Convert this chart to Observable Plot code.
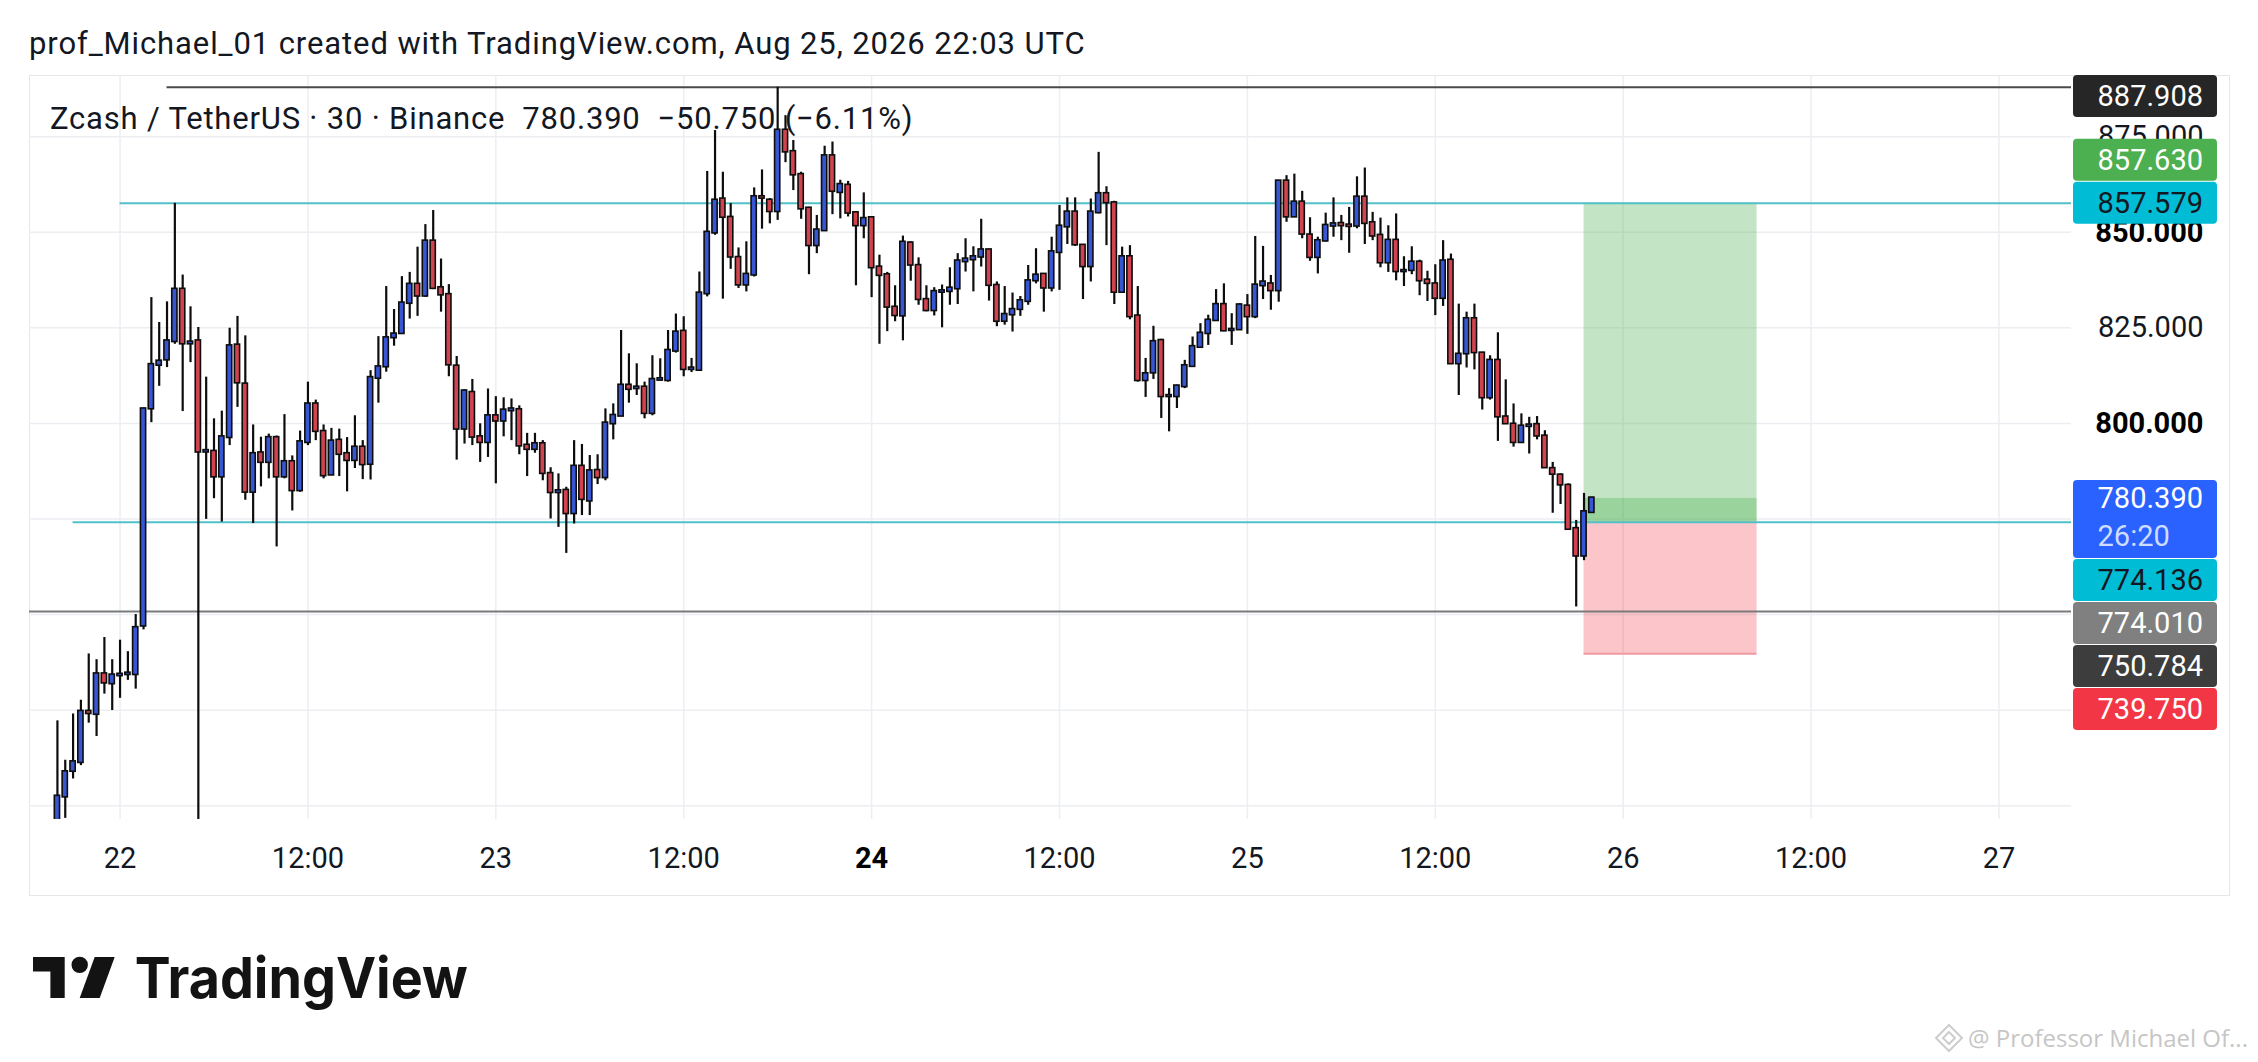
<!DOCTYPE html>
<html><head><meta charset="utf-8">
<script src="https://cdn.jsdelivr.net/npm/d3@7"></script>
<script src="https://cdn.jsdelivr.net/npm/@observablehq/plot@0.6"></script>
<style>
html,body{margin:0;padding:0;background:#fff;}
#wrap{position:relative;width:2258px;height:1062px;overflow:hidden;font-family:Roboto,"Noto Sans",sans-serif;color:#131722;}
#frame{position:absolute;left:29px;top:75px;width:2201px;height:821px;border:1.5px solid #e4e6ea;box-sizing:border-box;}
#chart{position:absolute;left:0;top:0;}
.t{position:absolute;white-space:pre;line-height:1;}
</style></head><body>
<div id="wrap">
  <div id="frame"></div>
  <div id="chart"></div>
  <div class="t" style="left:29px;top:28px;font-size:31px;letter-spacing:0.9px;">prof_Michael_01 created with TradingView.com, Aug 25, 2026 22:03 UTC</div>
  <div class="t" style="left:50px;top:103px;font-size:31px;letter-spacing:0.8px;">Zcash / TetherUS · 30 · Binance  780.390  −50.750 (−6.11%)</div>
  <svg style="position:absolute;left:33px;top:957px;overflow:visible" width="440" height="60">
    <path d="M0 0H31.7V41H17.4V14.4H0Z" fill="#131313"/>
    <circle cx="46.7" cy="7.9" r="8.2" fill="#131313"/>
    <path d="M61.7 0H81.7L66.7 41H46.7Z" fill="#131313"/>
    <text x="101.7" y="41" font-family="Inter, Roboto, sans-serif" font-weight="700" font-size="56" textLength="333" lengthAdjust="spacingAndGlyphs" fill="#131313">TradingView</text>
  </svg>
  <svg style="position:absolute;left:1935px;top:1024px;overflow:visible" width="30" height="30">
    <path d="M14 1L27 14L14 27L1 14Z" fill="none" stroke="#cdcdcd" stroke-width="2"/>
    <path d="M14 8L20 14L14 20L8 14Z" fill="none" stroke="#cdcdcd" stroke-width="2"/>
  </svg>
  <div class="t" style="left:1968px;top:1026px;font-size:24px;font-family:'Open Sans',sans-serif;color:#c6c6c6;">@ Professor Michael Of...</div>
</div>
<script>
// ---- data (30-minute candles, first bar Aug 21 2026 20:00 UTC) ----
const firstBar = Date.UTC(2026, 7, 21, 20, 0);
const open = [
694, 702.4, 709.1, 711.4, 724.6, 724.0, 734.4, 732.0,
734.1, 734.4, 734.4, 747.1, 803.9, 815.3, 816.7, 821.5, 835.0, 820.9,
821.5, 792.6, 792.6, 786.1, 796.4, 820.4, 810.2, 782.1, 792.2, 789.9,
796.2, 786.1, 789.9, 782.5, 795.1, 805.0, 797.8, 786.6, 795.5, 792.0,
790.4, 793.7, 789.4, 811.9, 814.9, 822.5, 823.6, 831.5, 836.3, 833.4,
847.6, 835.4, 833.6, 814.9, 798.6, 808.0, 796.4, 795.1, 801.9, 800.7,
803.4, 803.5, 794.2, 793.3, 794.6, 786.8, 782.0, 782.4, 776.5, 788.7,
779.8, 787.6, 785.9, 800.0, 802.0, 809.9, 809.2, 809.4, 802.7, 811.4,
811.3, 819.0, 824.0, 814.2, 814.0, 834.0, 849.9, 858.6, 853.8, 843.3,
836.3, 838.9, 859.2, 858.3, 855.5, 876.6, 871.0, 865.0, 856.2, 846.6,
850.5, 869.9, 860.5, 862.2, 855.0, 851.8, 853.7, 840.8, 838.8, 830.3,
828.2, 847.1, 841.2, 832.3, 829.6, 834.4, 834.6, 835.3, 842.4, 842.9,
843.6, 845.3, 836.0, 826.8, 828.5, 829.9, 832.0, 837.4, 838.9, 835.5,
844.8, 851.5, 855.2, 846.5, 841.1, 855.2, 860.0, 857.6, 834.4, 843.5,
828.0, 811.3, 813.3, 821.6, 807.1, 807.1, 809.7, 815.0, 820.0, 823.6,
827.0, 831.0, 824.4, 824.6, 830.6, 828.0, 836.1, 836.4, 834.8, 863.3,
854.1, 857.8, 849.2, 843.5, 847.8, 851.7, 852.2, 851.8, 851.7, 859.1,
852.4, 849.1, 842.1, 847.8, 839.8, 840.1, 842.1, 837.4, 836.4, 832.8,
842.6, 815.7, 818.3, 827.3, 818.3, 806.8, 816.4, 801.6, 799.7, 795.1,
799.3, 799.6, 796.6, 788.1, 786.4, 783.7, 772.4, 765.4, 776.8
];
const high = [
722.2, 711.9, 724.0, 727.6, 739.7, 738.2, 744.0, 738.2,
743.3, 740.3, 750.0, 804.0, 832.9, 826.4, 831.8, 857.58, 838.8, 830.5,
825.1, 812.1, 801.2, 803.2, 824.9, 828.0, 822.9, 799.6, 796.4, 797.2,
796.7, 802.3, 791.5, 798.0, 810.8, 806.1, 799.6, 798.7, 798.5, 796.3,
802.0, 795.5, 813.8, 822.7, 835.8, 829.8, 838.4, 839.5, 846.1, 852.0,
855.7, 843.0, 836.3, 817.5, 808.8, 811.5, 799.9, 809.0, 807.0, 806.7,
806.4, 804.6, 797.4, 797.4, 795.5, 788.4, 786.8, 783.3, 795.5, 794.5,
791.6, 791.8, 803.8, 805.1, 824.3, 818.2, 815.6, 810.8, 817.7, 816.9,
824.3, 828.6, 827.9, 817.0, 839.6, 865.9, 876.6, 865.7, 857.5, 845.9,
847.5, 861.6, 866.3, 858.8, 887.908, 880.5, 874.0, 865.7, 856.5, 854.4,
872.5, 873.6, 863.6, 863.3, 855.3, 860.3, 853.8, 844.0, 839.5, 836.0,
849.0, 847.5, 843.3, 836.0, 835.5, 836.2, 840.7, 844.4, 848.3, 846.2,
853.4, 845.5, 837.0, 835.8, 834.1, 833.2, 841.3, 845.7, 839.1, 848.7,
857.0, 859.0, 859.0, 846.8, 858.7, 870.9, 861.9, 858.1, 846.1, 846.5,
835.8, 817.0, 825.4, 822.0, 809.1, 810.0, 816.5, 822.6, 826.1, 828.3,
835.0, 836.5, 828.7, 831.3, 833.7, 848.9, 846.3, 838.7, 863.5, 864.8,
865.2, 860.7, 853.8, 848.7, 855.0, 859.0, 854.4, 856.5, 864.5, 866.8,
855.2, 853.7, 851.7, 854.8, 843.6, 846.2, 842.7, 839.8, 841.5, 847.8,
844.3, 831.2, 829.1, 831.2, 818.6, 817.7, 823.7, 811.4, 805.1, 802.5,
801.6, 801.8, 798.1, 789.8, 786.8, 784.2, 774.6, 781.7, 780.7
];
const low = [
688, 696.7, 707.0, 710.5, 721.6, 718.1, 729.2, 724.9,
728.1, 732.8, 730.5, 746.0, 800.2, 809.7, 814.6, 820.7, 803.1, 815.9,
680, 774.9, 780.3, 774.2, 794.2, 804.2, 779.9, 773.8, 783.4, 785.5,
767.7, 785.5, 777.1, 782.0, 794.2, 795.5, 785.5, 786.4, 786.1, 782.1,
788.2, 785.3, 785.2, 805.3, 813.4, 820.2, 823.4, 827.3, 828.0, 833.0,
835.0, 829.1, 812.2, 790.4, 794.6, 794.2, 789.8, 791.1, 784.2, 796.5,
795.5, 791.8, 786.1, 792.2, 785.0, 775.0, 772.8, 766.0, 773.7, 775.9,
775.9, 784.0, 785.0, 795.7, 801.8, 805.3, 807.3, 801.2, 802.0, 811.2,
810.8, 818.4, 812.2, 813.3, 813.8, 833.1, 849.2, 832.5, 840.3, 835.3,
834.4, 838.3, 850.8, 852.2, 853.1, 868.2, 860.9, 853.4, 838.9, 844.4,
850.2, 854.6, 853.5, 854.0, 836.0, 848.3, 832.9, 820.7, 824.0, 826.6,
821.6, 837.2, 830.9, 829.2, 828.1, 825.0, 830.9, 831.1, 839.6, 834.4,
840.9, 832.0, 825.3, 825.7, 823.9, 828.0, 830.9, 836.5, 829.1, 834.4,
834.8, 846.8, 846.3, 832.4, 837.0, 854.8, 846.5, 831.1, 834.0, 827.1,
810.8, 806.8, 811.5, 801.3, 797.8, 803.9, 809.1, 814.8, 819.8, 820.4,
826.8, 824.0, 820.4, 824.3, 823.3, 827.4, 832.4, 829.6, 831.7, 852.6,
853.9, 848.3, 842.4, 839.1, 847.5, 848.7, 847.8, 844.5, 850.9, 846.8,
847.8, 840.7, 839.5, 837.3, 835.8, 838.9, 833.4, 831.9, 828.2, 830.6,
815.5, 807.3, 814.5, 814.0, 803.5, 806.1, 795.3, 799.9, 793.8, 794.8,
792.0, 795.7, 788.3, 776.5, 778.8, 772.1, 752.0, 764.1, 776.5
];
const close = [
702.4, 708.8, 711.4, 724.6, 724.2, 734.4, 732.2, 734.1,
734.3, 734.6, 746.5, 803.7, 815.3, 816.2, 821.5, 835.0, 820.9, 821.2,
792.6, 792.8, 786.1, 796.4, 820.2, 810.7, 782.1, 792.0, 789.9, 796.2,
786.1, 789.9, 782.5, 795.1, 805.0, 798.0, 786.4, 795.3, 792.0, 790.4,
793.7, 789.3, 811.9, 814.7, 822.3, 823.3, 831.4, 836.3, 833.4, 847.6,
835.4, 833.7, 815.4, 798.6, 808.4, 796.5, 795.1, 801.9, 800.7, 803.4,
803.7, 794.2, 793.3, 794.6, 787.0, 782.0, 782.3, 776.5, 788.7, 780.2,
787.5, 785.9, 800.0, 802.0, 809.9, 809.0, 809.4, 802.7, 811.4, 811.6,
819.0, 823.8, 814.2, 814.4, 834.0, 849.9, 858.3, 854.0, 843.6, 836.3,
838.9, 859.2, 859.0, 855.5, 876.6, 871.1, 865.1, 856.2, 846.6, 850.5,
869.9, 860.8, 862.4, 855.1, 851.8, 853.5, 840.8, 838.8, 830.5, 828.3,
847.3, 841.5, 832.5, 829.6, 834.4, 834.6, 835.3, 842.4, 842.9, 843.5,
845.3, 836.2, 826.8, 828.4, 829.7, 832.0, 837.2, 838.7, 835.5, 844.8,
851.5, 855.2, 846.8, 841.1, 855.2, 860.0, 857.8, 834.4, 843.5, 828.0,
811.3, 812.9, 821.3, 807.1, 807.2, 809.7, 815.0, 820.0, 823.5, 826.9,
831.0, 824.3, 824.5, 830.9, 828.0, 836.1, 836.9, 834.8, 863.3, 854.1,
857.8, 849.6, 843.5, 847.7, 851.7, 852.1, 851.8, 851.6, 859.1, 852.4,
849.1, 842.1, 847.8, 839.8, 839.9, 842.1, 837.4, 836.7, 832.8, 842.4,
815.7, 818.0, 827.3, 818.6, 806.8, 816.4, 801.8, 800.0, 795.1, 799.2,
799.5, 796.8, 788.5, 786.8, 784.0, 772.4, 765.4, 776.8, 780.39
];

// horizontal drawing lines
const lineValues = [887.908, 857.579, 774.136, 750.784];
const lineStarts = [Date.UTC(2026,7,22,3,0), Date.UTC(2026,7,22,0,0), Date.UTC(2026,7,21,21,0), Date.UTC(2026,7,21,18,13)];
const lineColors = ["#4a4a4a", "#52c0c9", "#52c0c9", "#7a7a7a"];

// long position tool
const posStart = Date.UTC(2026,7,25,21,30);
const posEnd = Date.UTC(2026,7,26,8,33);
const entry = 774.136, target = 857.63, stop = 739.75, lastPrice = 780.39;

// axes
const xDomain = [Date.UTC(2026,7,21,18,13), Date.UTC(2026,7,27,4,38)];
const yDomain = [696.4, 891.0];
const gridPrices = [700, 725, 750, 775, 800, 825, 850, 875];
const priceTicks = [875, 850, 825, 800];
const boldPriceTicks = [850, 800];
const timeTicks = [
  Date.UTC(2026,7,22,0), Date.UTC(2026,7,22,12), Date.UTC(2026,7,23,0), Date.UTC(2026,7,23,12),
  Date.UTC(2026,7,24,0), Date.UTC(2026,7,24,12), Date.UTC(2026,7,25,0), Date.UTC(2026,7,25,12),
  Date.UTC(2026,7,26,0), Date.UTC(2026,7,26,12), Date.UTC(2026,7,27,0)];
const timeLabels = ["22","12:00","23","12:00","24","12:00","25","12:00","26","12:00","27"];
const boldTimeLabel = "24";

// price scale labels
const labelValues = [887.908, 857.630, 857.579, 780.390, 774.136, 774.010, 750.784, 739.750];
const labelSub = [null, null, null, "26:20", null, null, null, null];
const labelBg = ["#262626", "#4caf50", "#00bcd4", "#2962ff", "#00bcd4", "#808080", "#3d3d3d", "#f23645"];
const labelFg = ["#ffffff", "#ffffff", "#131722", "#ffffff", "#131722", "#ffffff", "#ffffff", "#ffffff"];
const labelPriority = [false, false, true, true, false, false, false, false];

// ---- build ----
const candles = open.map((o, i) => ({
  t: new Date(firstBar + i * 30 * 60000), o, h: high[i], l: low[i], c: close[i]
}));
const halfBody = 10 * 60000;
const lines = lineValues.map((v, i) => ({v, from: new Date(lineStarts[i]), to: new Date(xDomain[1]), color: lineColors[i]}));
const zones = [
  {y1: entry, y2: target, fill: "#4caf50", op: 0.33},
  {y1: entry, y2: lastPrice, fill: "#4caf50", op: 0.34},
  {y1: stop, y2: entry, fill: "#f23645", op: 0.29}
];
const ticks = timeTicks.map((t, i) => ({t: new Date(t), label: timeLabels[i]}));

const plot = Plot.plot({
  width: 2258, height: 1062,
  marginTop: 75, marginBottom: 243, marginLeft: 29, marginRight: 187,
  x: {type: "utc", domain: xDomain.map(d => new Date(d)), axis: null},
  y: {domain: yDomain, axis: null},
  style: {fontFamily: "Roboto, sans-serif", background: "transparent", color: "#131722"},
  marks: [
    Plot.gridX(timeTicks.map(d => new Date(d)), {stroke: "#eceef2", strokeOpacity: 1, strokeWidth: 1.5}),
    Plot.gridY(gridPrices, {stroke: "#eceef2", strokeOpacity: 1, strokeWidth: 1.5}),
    Plot.rect(zones, {x1: () => new Date(posStart), x2: () => new Date(posEnd), y1: "y1", y2: "y2", fill: "fill", fillOpacity: "op"}),
    Plot.ruleY([stop], {x1: () => new Date(posStart), x2: () => new Date(posEnd), stroke: "#ef9aa2", strokeWidth: 2}),
    Plot.ruleY(lines, {y: "v", x1: "from", x2: "to", stroke: "color", strokeWidth: 2}),
    Plot.ruleX(candles, {x: "t", y1: "l", y2: "h", stroke: "#0d0d0d", strokeWidth: 2.2, clip: "frame"}),
    Plot.rect(candles, {
      x1: d => new Date(+d.t - halfBody), x2: d => new Date(+d.t + halfBody),
      y1: "o", y2: "c", insetTop: -0.8, insetBottom: -0.8,
      fill: d => d.c >= d.o ? "#3656d3" : "#d1434f",
      stroke: "#0d0d0d", strokeWidth: 1.6, clip: "frame"
    }),
    Plot.text(priceTicks.filter(v => !boldPriceTicks.includes(v)), {y: d => d, text: d => d.toFixed(3), frameAnchor: "right", textAnchor: "end", lineAnchor: "middle", dx: 132, fontSize: 29, fill: "#131722"}),
    Plot.text(boldPriceTicks, {y: d => d, text: d => d.toFixed(3), frameAnchor: "right", textAnchor: "end", lineAnchor: "middle", dx: 132, fontSize: 29, fontWeight: "bold", fill: "#000"}),
    Plot.text(ticks.filter(d => d.label !== boldTimeLabel), {x: "t", text: "label", frameAnchor: "bottom", lineAnchor: "middle", dy: 39, fontSize: 29, fill: "#131722"}),
    Plot.text(ticks.filter(d => d.label === boldTimeLabel), {x: "t", text: "label", frameAnchor: "bottom", lineAnchor: "middle", dy: 39, fontSize: 29, fontWeight: "bold", fill: "#000"})
  ]
});
document.getElementById("chart").appendChild(plot);

// ---- price-scale labels, stacked to avoid overlap ----
const ys = plot.scale("y"), xs = plot.scale("x");
const frameTop = Math.min(...ys.range);
const axisLeft = Math.max(...xs.range) + 2;
const items = labelValues.map((v, i) => {
  const two = !!labelSub[i];
  const h = two ? 78 : 42, off = two ? 18 : 21;
  return {v, sub: labelSub[i], bg: labelBg[i], fg: labelFg[i], pri: labelPriority[i], h, off, want: ys.apply(v) - off};
});
const gap = 1;
function layout(b) {
  let acc = 0;
  b.items.forEach(d => { d.rel = acc; acc += d.h + gap; });
  b.h = acc - gap;
  const a = b.items.find(d => d.pri) || b.items[0];
  b.top = Math.max(frameTop, a.want - a.rel);
}
let blocks = items.map(d => ({items: [d]}));
blocks.forEach(layout);
for (let changed = true; changed;) {
  changed = false;
  for (let i = 0; i < blocks.length - 1; i++) {
    const A = blocks[i], B = blocks[i + 1];
    if (A.top + A.h + gap > B.top) {
      A.items = A.items.concat(B.items);
      blocks.splice(i + 1, 1);
      layout(A);
      changed = true;
      break;
    }
  }
}
const g = d3.select(plot).append("g").attr("font-family", "Roboto, sans-serif").attr("font-size", 29);
blocks.forEach(b => b.items.forEach(d => {
  const top = b.top + d.rel;
  g.append("rect").attr("x", axisLeft).attr("y", top).attr("width", 144).attr("height", d.h).attr("rx", 4).attr("fill", d.bg);
  const main = g.append("text").attr("x", axisLeft + 130).attr("y", top + d.off).attr("dy", "0.35em").attr("text-anchor", "end").attr("fill", d.fg).text(d.v.toFixed(3));
  if (d.sub) {
    const left = main.node().getBBox().x;
    g.append("text").attr("x", left).attr("y", top + d.off + 38).attr("dy", "0.35em").attr("text-anchor", "start").attr("fill", "#d0dcff").text(d.sub);
  }
}));
</script>
</body></html>
